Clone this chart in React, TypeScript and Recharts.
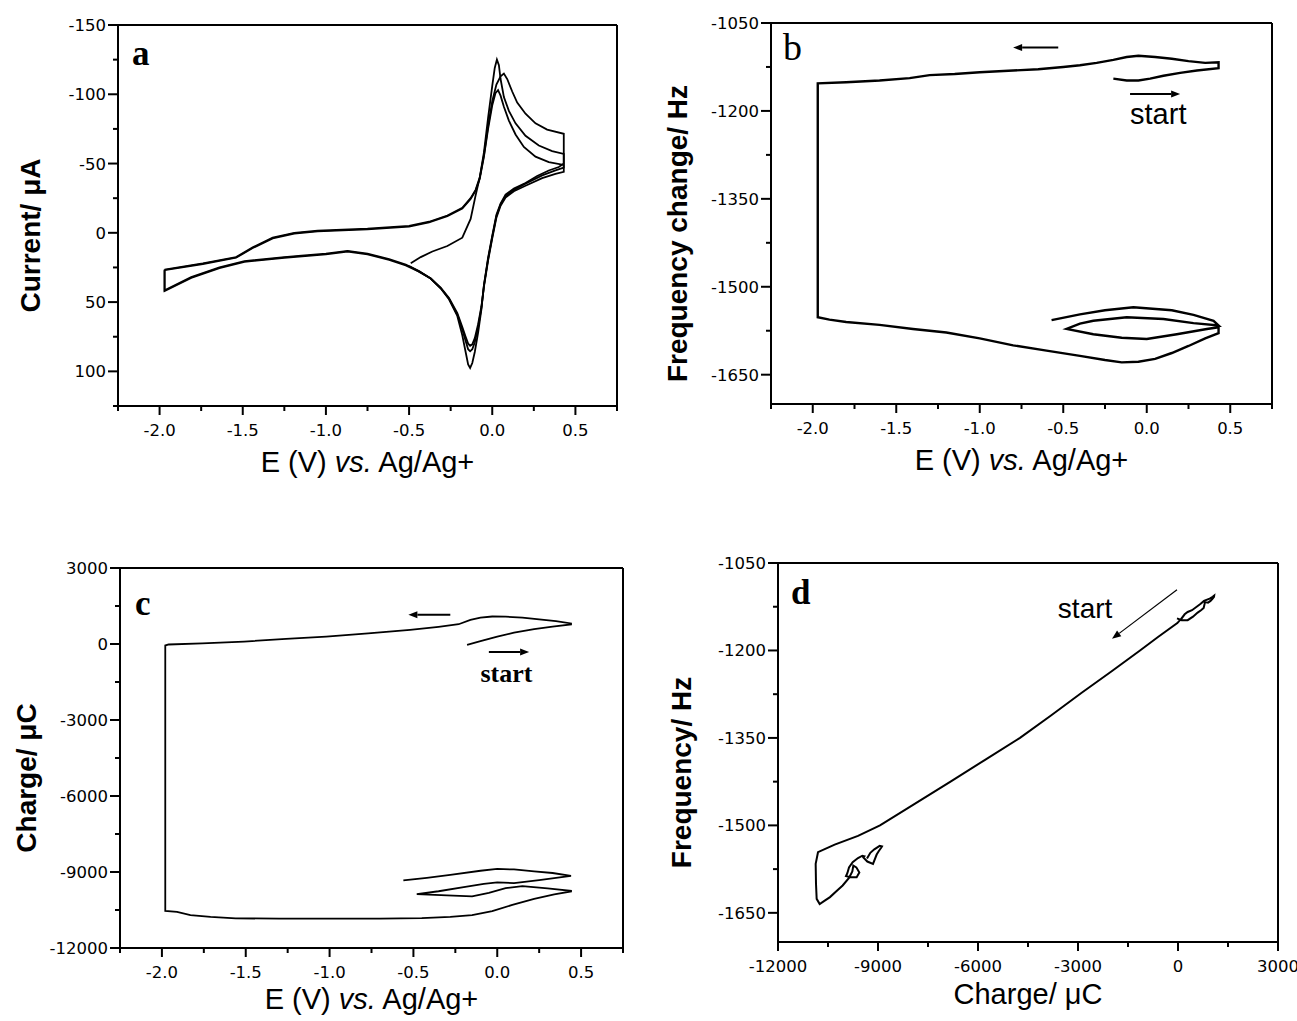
import React from "react";
import { ScatterChart, Scatter, XAxis, YAxis, ReferenceLine, ReferenceDot, Label } from "recharts";

type Pt = [number, number];

// panel a: cyclic voltammogram, E (V) vs current (uA), three cycles
const cvCycle1: Pt[] = [
    [-0.49, 22], [-0.43, 17.5], [-0.36, 13.5], [-0.27, 9.5], [-0.18, 3.5], [-0.13, -10], [-0.1, -27], [-0.075, -40],
    [-0.05, -56], [-0.025, -77], [0.0, -95], [0.025, -107], [0.05, -113], [0.07, -115], [0.09, -111], [0.12, -102],
    [0.15, -94], [0.2, -86], [0.26, -79], [0.33, -74.5], [0.43, -71.5],
    [0.43, -50], [0.4, -47.5], [0.34, -45], [0.27, -41], [0.2, -36], [0.13, -32], [0.08, -27.5], [0.05, -21],
    [0.025, -13], [0.0, 2], [-0.025, 18], [-0.05, 38], [-0.065, 55], [-0.085, 72], [-0.105, 86], [-0.12, 94],
    [-0.133, 97.5], [-0.145, 95], [-0.16, 86], [-0.18, 74], [-0.21, 60], [-0.26, 48], [-0.31, 40], [-0.37, 33],
    [-0.44, 27.5], [-0.52, 23], [-0.62, 19], [-0.75, 15], [-0.87, 13], [-1.0, 15], [-1.25, 17.5], [-1.49, 20.5],
    [-1.64, 25], [-1.81, 32], [-1.97, 41.5], [-1.97, 26.5],
];
const cvCycle2: Pt[] = [
    [-1.97, 26.5], [-1.74, 22], [-1.54, 17.5], [-1.44, 10.5], [-1.32, 3.5], [-1.19, 0], [-1.05, -1.5], [-0.75, -3],
    [-0.5, -5], [-0.38, -8], [-0.27, -12.5], [-0.18, -18], [-0.13, -25], [-0.1, -31], [-0.075, -40], [-0.05, -58],
    [-0.025, -83], [0.0, -106], [0.015, -119], [0.028, -125], [0.04, -121], [0.05, -111], [0.07, -98], [0.1, -88],
    [0.14, -79], [0.2, -70], [0.28, -63], [0.36, -59], [0.43, -57],
    [0.43, -47], [0.38, -45], [0.3, -41.5], [0.2, -35.5], [0.13, -31], [0.08, -26.5], [0.05, -20.5], [0.025, -12],
    [0.0, 3], [-0.025, 19], [-0.05, 38], [-0.065, 54], [-0.085, 68], [-0.105, 79], [-0.12, 84], [-0.133, 85.5],
    [-0.145, 84], [-0.16, 78], [-0.18, 70], [-0.21, 59], [-0.26, 47.5], [-0.31, 40], [-0.37, 33], [-0.44, 28],
    [-0.52, 23.5], [-0.62, 19.5], [-0.75, 15.5], [-0.87, 13.5], [-1.0, 15.5], [-1.25, 18], [-1.49, 21], [-1.64, 25.5],
    [-1.81, 32.5], [-1.97, 42], [-1.97, 27],
];
const cvCycle3: Pt[] = [
    [-1.97, 27], [-1.74, 22.5], [-1.54, 18], [-1.44, 11], [-1.32, 4], [-1.19, 0.5], [-1.05, -1], [-0.75, -2.5],
    [-0.5, -4.5], [-0.38, -7.5], [-0.27, -12], [-0.18, -17.5], [-0.13, -24.5], [-0.1, -30.5], [-0.075, -39],
    [-0.05, -55], [-0.025, -75], [0.0, -92], [0.02, -101], [0.035, -103], [0.05, -99], [0.07, -91], [0.1, -81],
    [0.14, -71], [0.19, -62], [0.26, -55], [0.34, -51], [0.43, -49],
    [0.43, -44], [0.38, -42.5], [0.3, -39.5], [0.2, -34], [0.13, -30], [0.08, -25.5], [0.05, -19.5], [0.025, -11],
    [0.0, 4], [-0.025, 20], [-0.05, 39], [-0.065, 53], [-0.085, 66], [-0.105, 76], [-0.12, 80.5], [-0.133, 81.5],
    [-0.145, 80], [-0.16, 75], [-0.18, 68], [-0.21, 58], [-0.26, 47], [-0.31, 39.5], [-0.37, 33], [-0.44, 28],
    [-0.5, 24],
];

// panel b: frequency change (Hz) vs E
const freqVsE: Pt[] = [
    [-0.2, -1145], [-0.12, -1148], [-0.05, -1148], [0.02, -1145], [0.1, -1140], [0.2, -1135], [0.3, -1131], [0.43, -1127],
    [0.43, -1117], [0.35, -1118], [0.25, -1115], [0.15, -1111], [0.05, -1108], [-0.05, -1106], [-0.12, -1108],
    [-0.2, -1113], [-0.3, -1118], [-0.4, -1122], [-0.5, -1125], [-0.65, -1129], [-0.8, -1131], [-1.0, -1134],
    [-1.15, -1137], [-1.3, -1139], [-1.42, -1144], [-1.6, -1148], [-1.8, -1151], [-1.97, -1153],
    [-1.97, -1552], [-1.9, -1556], [-1.8, -1560], [-1.6, -1565], [-1.4, -1572], [-1.2, -1578], [-1.0, -1588],
    [-0.8, -1600], [-0.6, -1609], [-0.4, -1618], [-0.25, -1625], [-0.15, -1629], [-0.05, -1628], [0.05, -1623],
    [0.15, -1613], [0.25, -1601], [0.35, -1588], [0.43, -1579],
    [0.43, -1569], [0.36, -1572], [0.18, -1581], [0.0, -1589], [-0.15, -1587], [-0.32, -1581], [-0.48, -1572],
    [-0.4, -1563], [-0.32, -1558], [-0.12, -1552], [0.1, -1555], [0.28, -1562], [0.43, -1566],
    [0.4, -1558], [0.28, -1548], [0.15, -1540], [-0.08, -1535], [-0.25, -1540], [-0.4, -1547], [-0.57, -1557],
];

// panel c: charge (uC) vs E
const chargeVsE: Pt[] = [
    [-0.18, -30], [-0.1, 110], [0.0, 290], [0.1, 450], [0.22, 590], [0.33, 690], [0.44, 770],
    [0.44, 810], [0.35, 900], [0.25, 975], [0.15, 1040], [0.05, 1080], [-0.03, 1085], [-0.1, 1040], [-0.16, 950],
    [-0.23, 780], [-0.35, 680], [-0.52, 560], [-0.77, 420], [-1.02, 290], [-1.26, 200], [-1.51, 95], [-1.76, 25],
    [-1.96, -20], [-1.98, -60],
    [-1.98, -10540], [-1.91, -10570], [-1.83, -10700], [-1.71, -10770], [-1.56, -10830], [-1.3, -10840],
    [-1.0, -10840], [-0.7, -10840], [-0.45, -10820], [-0.28, -10770], [-0.15, -10700], [-0.03, -10540],
    [0.09, -10300], [0.22, -10060], [0.34, -9880], [0.44, -9770],
    [0.44, -9740], [0.3, -9650], [0.15, -9560], [0.05, -9640], [-0.05, -9820], [-0.15, -9960], [-0.3, -9920], [-0.48, -9870],
    [-0.35, -9760], [-0.2, -9600], [-0.08, -9470], [0.0, -9410], [0.1, -9440], [0.25, -9320], [0.44, -9150],
    [0.33, -9040], [0.22, -8975], [0.1, -8900], [0.0, -8880], [-0.1, -8950], [-0.28, -9110], [-0.42, -9230], [-0.56, -9330],
];

// panel d: frequency (Hz) vs charge (uC)
const freqVsCharge: Pt[] = [
    [-30, -1145], [110, -1148], [290, -1148], [450, -1142], [590, -1135], [690, -1131], [770, -1127],
    [810, -1117], [900, -1118], [975, -1115], [1040, -1111], [1080, -1108], [1085, -1106], [1040, -1108],
    [950, -1111], [780, -1115], [680, -1120], [560, -1125], [420, -1131], [290, -1134], [200, -1138], [95, -1146],
    [25, -1150], [-20, -1153],
    [-600, -1177], [-1140, -1200], [-2000, -1236], [-2900, -1273], [-3800, -1311], [-4740, -1350], [-5800, -1388],
    [-6800, -1424], [-7900, -1463], [-8940, -1500], [-9600, -1518], [-10300, -1533], [-10800, -1546],
    [-10870, -1566], [-10860, -1600], [-10840, -1626], [-10750, -1635], [-10620, -1630], [-10440, -1623],
    [-10250, -1613], [-10060, -1603], [-9870, -1590], [-9770, -1579],
    [-9740, -1569], [-9650, -1572], [-9560, -1581], [-9640, -1589], [-9820, -1589], [-9960, -1587], [-9920, -1582], [-9870, -1572],
    [-9760, -1563], [-9600, -1556], [-9470, -1552], [-9410, -1553], [-9440, -1555], [-9320, -1562], [-9150, -1566],
    [-9040, -1550], [-8975, -1544], [-8900, -1538], [-8880, -1536], [-8950, -1535], [-9110, -1541], [-9230, -1547], [-9330, -1557],
];

// ticks (every tick drawn, labels only on the listed ones)
const eTicks = [-2.25, -2, -1.75, -1.5, -1.25, -1, -0.75, -0.5, -0.25, 0, 0.25, 0.5, 0.75];
const eLabels = [-2, -1.5, -1, -0.5, 0, 0.5];
const currentTicks = [-150, -125, -100, -75, -50, -25, 0, 25, 50, 75, 100, 125];
const currentLabels = [-150, -100, -50, 0, 50, 100];
const freqTicks = [-1050, -1125, -1200, -1275, -1350, -1425, -1500, -1575, -1650];
const freqLabels = [-1050, -1200, -1350, -1500, -1650];
const chargeTicks = [3000, 1500, 0, -1500, -3000, -4500, -6000, -7500, -9000, -10500, -12000];
const chargeLabels = [3000, 0, -3000, -6000, -9000, -12000];
const chargeXTicks = [-12000, -10500, -9000, -7500, -6000, -4500, -3000, -1500, 0, 1500, 3000];
const chargeXLabels = [-12000, -9000, -6000, -3000, 0, 3000];

const SANS = "'Liberation Sans', Arial, sans-serif";
const SERIF = "'Liberation Serif', 'Times New Roman', serif";
const TICK_FONT = "'DejaVu Sans', sans-serif";
const Y_W = 80;
const X_H = 60;

const toXY = (pts: Pt[]) => pts.map(([x, y]) => ({ x, y }));
const has = (list: number[], v: number) => list.some((l) => Math.abs(l - v) < 1e-9);

function XTick({ x, y, payload, labels, digits }: any) {
    const major = has(labels, payload.value);
    return (
        <g>
            <line x1={x} y1={y} x2={x} y2={y + (major ? 9 : 5)} stroke="#000" strokeWidth={2} />
            {major && (
                <text x={x} y={y + 30} textAnchor="middle" fontFamily={TICK_FONT} fontSize={16.5} fill="#000">
                    {payload.value.toFixed(digits)}
                </text>
            )}
        </g>
    );
}

function YTick({ x, y, payload, labels }: any) {
    const major = has(labels, payload.value);
    return (
        <g>
            <line x1={x - (major ? 10 : 5)} y1={y} x2={x} y2={y} stroke="#000" strokeWidth={2} />
            {major && (
                <text x={x - 12} y={y + 6} textAnchor="end" fontFamily={TICK_FONT} fontSize={16.5} fill="#000">
                    {String(payload.value)}
                </text>
            )}
        </g>
    );
}

function Arrow(p: any) {
    const { x1, y1, x2, y2 } = p;
    const w = p.w ?? 2;
    const len = p.head ?? 9;
    const a = Math.atan2(y2 - y1, x2 - x1);
    const bx = x2 - len * Math.cos(a);
    const by = y2 - len * Math.sin(a);
    const px = -Math.sin(a) * 3.5;
    const py = Math.cos(a) * 3.5;
    return (
        <g>
            <line x1={x1} y1={y1} x2={bx} y2={by} stroke="#000" strokeWidth={w} />
            <polygon points={`${x2},${y2} ${bx + px},${by + py} ${bx - px},${by - py}`} fill="#000" />
        </g>
    );
}

const arrow = (key: string, from: Pt, to: Pt, w = 2) => (
    <ReferenceLine
        key={key}
        segment={[{ x: from[0], y: from[1] }, { x: to[0], y: to[1] }]}
        shape={(p: any) => <Arrow {...p} w={w} />}
    />
);

const note = (key: string, at: Pt, text: string, font: string, size: number, bold = false) => (
    <ReferenceDot
        key={key}
        x={at[0]}
        y={at[1]}
        r={1}
        shape={(d: any) => (
            <text x={d.cx} y={d.cy} fontFamily={font} fontSize={size} fontWeight={bold ? "bold" : "normal"} fill="#000">
                {text}
            </text>
        )}
    />
);

const eTitle = (
    <>
        <tspan>{"E (V) "}</tspan>
        <tspan fontStyle="italic">vs.</tspan>
        <tspan>{" Ag/Ag+"}</tspan>
    </>
);

interface PanelProps {
    box: [number, number, number, number];
    plot: [number, number, number, number];
    xDomain: [number, number];
    yDomain: [number, number];
    reversed?: boolean;
    xTicks: number[];
    xLabels: number[];
    xDigits: number;
    yTicks: number[];
    yLabels: number[];
    series: Pt[][];
    lineWidth: number;
    xTitle: React.ReactNode;
    xTitleGap: number;
    yTitle: string;
    yTitleGap: number;
    extras: React.ReactNode[];
}

function Panel(p: PanelProps) {
    const [bl, bt, bw, bh] = p.box;
    const [pl, pt, pr, pb] = p.plot;
    const margin = { left: pl - bl - Y_W, top: pt - bt, right: bl + bw - pr, bottom: bt + bh - pb - X_H };
    return (
        <div style={{ position: "absolute", left: bl, top: bt }}>
            <ScatterChart width={bw} height={bh} margin={margin}>
                <XAxis
                    type="number"
                    dataKey="x"
                    domain={p.xDomain}
                    ticks={p.xTicks}
                    interval={0}
                    allowDataOverflow
                    height={X_H}
                    tickSize={0}
                    tickMargin={0}
                    tickLine={false}
                    axisLine={{ stroke: "#000", strokeWidth: 2 }}
                    tick={(t: any) => <XTick {...t} labels={p.xLabels} digits={p.xDigits} />}
                >
                    <Label
                        content={(l: any) => {
                            const vb = l.viewBox;
                            return (
                                <text x={vb.x + vb.width / 2} y={vb.y + p.xTitleGap} textAnchor="middle"
                                    fontFamily={SANS} fontSize={29} fill="#000">
                                    {p.xTitle}
                                </text>
                            );
                        }}
                    />
                </XAxis>
                <YAxis
                    type="number"
                    dataKey="y"
                    domain={p.yDomain}
                    reversed={p.reversed}
                    ticks={p.yTicks}
                    interval={0}
                    allowDataOverflow
                    width={Y_W}
                    tickSize={0}
                    tickMargin={0}
                    tickLine={false}
                    axisLine={{ stroke: "#000", strokeWidth: 2 }}
                    tick={(t: any) => <YTick {...t} labels={p.yLabels} />}
                >
                    <Label
                        content={(l: any) => {
                            const vb = l.viewBox;
                            const cx = vb.x + vb.width - p.yTitleGap;
                            const cy = vb.y + vb.height / 2 + 20;
                            return (
                                <text x={cx} y={cy} transform={`rotate(-90 ${cx} ${cy})`} textAnchor="middle"
                                    fontFamily={SANS} fontWeight="bold" fontSize={28} fill="#000">
                                    {p.yTitle}
                                </text>
                            );
                        }}
                    />
                </YAxis>
                <ReferenceLine y={p.reversed ? p.yDomain[0] : p.yDomain[1]} stroke="#000" strokeWidth={2} />
                <ReferenceLine x={p.xDomain[1]} stroke="#000" strokeWidth={2} />
                {p.series.map((s, i) => (
                    <Scatter
                        key={i}
                        data={toXY(s)}
                        line={{ stroke: "#000", strokeWidth: p.lineWidth }}
                        shape={() => <g />}
                        isAnimationActive={false}
                    />
                ))}
                {p.extras}
            </ScatterChart>
        </div>
    );
}

export default function App() {
    return (
        <div style={{ position: "absolute", left: 0, top: 0, width: 1297, height: 1021, background: "#fff", overflow: "hidden" }}>
            <Panel
                box={[0, 0, 648, 510]}
                plot={[118, 25, 617, 406]}
                xDomain={[-2.25, 0.75]}
                yDomain={[-150, 125]}
                reversed
                xTicks={eTicks}
                xLabels={eLabels}
                xDigits={1}
                yTicks={currentTicks}
                yLabels={currentLabels}
                series={[cvCycle1, cvCycle2, cvCycle3]}
                lineWidth={1.8}
                xTitle={eTitle}
                xTitleGap={66}
                yTitle="Current/ μA"
                yTitleGap={78}
                extras={[note("la", [-2.166, -121], "a", SERIF, 35, true)]}
            />
            <Panel
                box={[648, 0, 649, 510]}
                plot={[771, 23, 1272, 404]}
                xDomain={[-2.25, 0.75]}
                yDomain={[-1700, -1050]}
                xTicks={eTicks}
                xLabels={eLabels}
                xDigits={1}
                yTicks={freqTicks}
                yLabels={freqLabels}
                series={[freqVsE]}
                lineWidth={2.4}
                xTitle={eTitle}
                xTitleGap={66}
                yTitle="Frequency change/ Hz"
                yTitleGap={84}
                extras={[
                    note("lb", [-2.178, -1113], "b", SERIF, 38),
                    arrow("b1", [-0.53, -1092], [-0.8, -1092]),
                    arrow("b2", [-0.1, -1171], [0.2, -1171]),
                    note("sb", [-0.1, -1222], "start", SANS, 29),
                ]}
            />
            <Panel
                box={[0, 510, 648, 511]}
                plot={[120, 568, 623, 948]}
                xDomain={[-2.25, 0.75]}
                yDomain={[-12000, 3000]}
                xTicks={eTicks}
                xLabels={eLabels}
                xDigits={1}
                yTicks={chargeTicks}
                yLabels={chargeLabels}
                series={[chargeVsE]}
                lineWidth={1.8}
                xTitle={eTitle}
                xTitleGap={61}
                yTitle="Charge/ μC"
                yTitleGap={84}
                extras={[
                    note("lc", [-2.16, 1145], "c", SERIF, 35, true),
                    arrow("c1", [-0.28, 1150], [-0.53, 1150]),
                    arrow("c2", [-0.05, -320], [0.19, -320]),
                    note("sc", [-0.1, -1518], "start", SERIF, 26, true),
                ]}
            />
            <Panel
                box={[648, 510, 649, 511]}
                plot={[778, 563, 1278, 942]}
                xDomain={[-12000, 3000]}
                yDomain={[-1700, -1050]}
                xTicks={chargeXTicks}
                xLabels={chargeXLabels}
                xDigits={0}
                yTicks={freqTicks}
                yLabels={freqLabels}
                series={[freqVsCharge]}
                lineWidth={2}
                xTitle="Charge/ μC"
                xTitleGap={62}
                yTitle="Frequency/ Hz"
                yTitleGap={87}
                extras={[
                    note("ld", [-11610, -1120], "d", SERIF, 35, true),
                    arrow("d1", [-30, -1096], [-1980, -1180], 1.2),
                    note("sd", [-3604, -1144], "start", SANS, 28),
                ]}
            />
        </div>
    );
}
